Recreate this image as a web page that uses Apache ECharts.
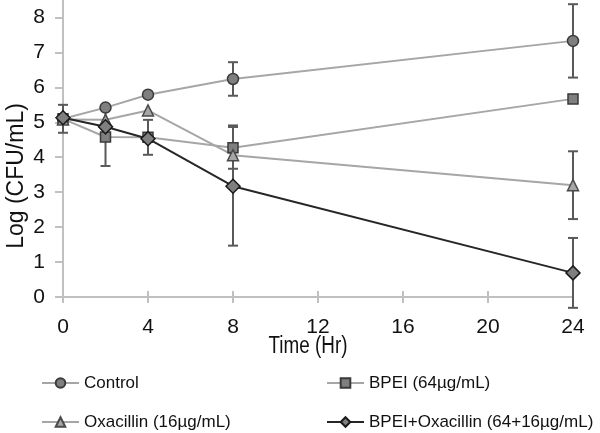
<!DOCTYPE html>
<html>
<head>
<meta charset="utf-8">
<script src="https://cdn.jsdelivr.net/npm/echarts@6/dist/echarts.min.js"></script>
<style>
html,body{margin:0;padding:0;background:#fff;}
#chart{width:600px;height:433px;}
</style>
</head>
<body>
<div id="chart"></div>
<script>
const hours = [0, 2, 4, 8, 24];
const seriesNames = ['Control', 'BPEI (64µg/mL)', 'Oxacillin (16µg/mL)', 'BPEI+Oxacillin (64+16µg/mL)'];
const control = [5.10, 5.42, 5.79, 6.24, 7.33];
const controlErr = [0.40, 0, 0, 0.48, 1.05];
const bpei = [5.10, 4.58, 4.57, 4.27, 5.67];
const bpeiErr = [0, 0.83, 0.50, 0.60, 0.10];
const oxa = [5.08, 5.07, 5.34, 4.06, 3.20];
const oxaErr = [0, 0, 0, 0.85, 0.97];
const combo = [5.13, 4.87, 4.53, 3.17, 0.69];
const comboErr = [0, 0, 0, 1.70, 1.00];
const yTicks = [0, 1, 2, 3, 4, 5, 6, 7, 8];
const xTicks = [0, 4, 8, 12, 16, 20, 24];

const FONT = "'Liberation Sans', Arial, sans-serif";
const chart = echarts.init(document.getElementById('chart'));

function pts(vals) { return hours.map((h, i) => [h, vals[i]]); }
function errPts(vals, errs) { return hours.map((h, i) => [h, vals[i], errs[i]]); }

function errSeries(name, vals, errs) {
  return {
    name: name, type: 'custom', z: 1, silent: true,
    encode: { x: 0, y: 1 },
    data: errPts(vals, errs),
    renderItem: function (params, api) {
      const x = api.value(0), y = api.value(1), e = api.value(2);
      if (!e) return null;
      const top = api.coord([x, y + e]);
      const bot = api.coord([x, y - e]);
      const w = 5;
      const st = { stroke: '#595959', lineWidth: 2 };
      return {
        type: 'group',
        children: [
          { type: 'line', shape: { x1: top[0], y1: top[1], x2: bot[0], y2: bot[1] }, style: st },
          { type: 'line', shape: { x1: top[0] - w, y1: top[1], x2: top[0] + w, y2: top[1] }, style: st },
          { type: 'line', shape: { x1: bot[0] - w, y1: bot[1], x2: bot[0] + w, y2: bot[1] }, style: st }
        ]
      };
    }
  };
}

function lineSeries(name, vals, lineColor, symbol, size, fill, border) {
  return {
    name: name, type: 'line', z: 3,
    data: pts(vals),
    symbol: symbol, symbolSize: size,
    lineStyle: { color: lineColor, width: 2 },
    itemStyle: { color: fill, borderColor: border, borderWidth: 1.5 },
    emphasis: { disabled: true },
    animation: false
  };
}

function legendItem(name, left, top) {
  return {
    orient: 'horizontal', left: left, top: top, padding: 0,
    data: [name],
    itemWidth: 37, itemHeight: 12, itemGap: 0,
    textStyle: { fontSize: 17, fontFamily: FONT, color: '#111', lineHeight: 20 },
    selectedMode: false
  };
}

const option = {
  animation: false,
  grid: { left: 63, right: 27, top: 0, bottom: 136 },
  xAxis: [{
    type: 'value', min: 0, max: 24, interval: 4,
    axisLine: { lineStyle: { color: '#c0c0c0', width: 2 } },
    axisTick: { show: true, inside: false, length: 6, lineStyle: { color: '#c0c0c0', width: 2 } },
    axisLabel: { color: '#111', fontSize: 21, fontFamily: FONT, margin: 20, customValues: xTicks },
    splitLine: { show: false }
  }, {
    type: 'value', min: 0, max: 24, interval: 4, position: 'bottom',
    axisLine: { show: false },
    axisTick: { show: true, inside: true, length: 6, lineStyle: { color: '#c0c0c0', width: 2 } },
    axisLabel: { show: false },
    splitLine: { show: false }
  }],
  yAxis: {
    type: 'value', min: 0, max: 8.5, interval: 1,
    axisLine: { show: true, lineStyle: { color: '#c0c0c0', width: 2 } },
    axisTick: { show: true, length: 8, lineStyle: { color: '#c0c0c0', width: 2 }, customValues: yTicks },
    axisLabel: { color: '#111', fontSize: 21, fontFamily: FONT, margin: 18, customValues: yTicks },
    splitLine: { show: false }
  },
  legend: [
    legendItem(seriesNames[0], 41, 373),
    legendItem(seriesNames[2], 41, 412),
    legendItem(seriesNames[1], 326, 373),
    legendItem(seriesNames[3], 326, 412)
  ],
  graphic: [{
    type: 'text', x: 17, y: 176, rotation: Math.PI / 2,
    style: { text: 'Log (CFU/mL)', font: "23px " + FONT, fill: '#111', textAlign: 'center', textVerticalAlign: 'middle' }
  }, {
    type: 'text', x: 308, y: 347, scaleX: 0.82,
    style: { text: 'Time (Hr)', font: "23px " + FONT, fill: '#111', textAlign: 'center', textVerticalAlign: 'middle' }
  }],
  series: [
    errSeries('e0', control, controlErr),
    errSeries('e1', bpei, bpeiErr),
    errSeries('e2', oxa, oxaErr),
    errSeries('e3', combo, comboErr),
    lineSeries(seriesNames[0], control, '#a6a6a6', 'circle', 11, '#7f7f7f', '#3a3a3a'),
    lineSeries(seriesNames[1], bpei, '#a6a6a6', 'rect', 10, '#7f7f7f', '#3a3a3a'),
    lineSeries(seriesNames[2], oxa, '#a6a6a6', 'triangle', 11, '#a6a6a6', '#4a4a4a'),
    lineSeries(seriesNames[3], combo, '#262626', 'diamond', 14, '#7f7f7f', '#1a1a1a')
  ]
};
chart.setOption(option);
</script>
</body>
</html>
